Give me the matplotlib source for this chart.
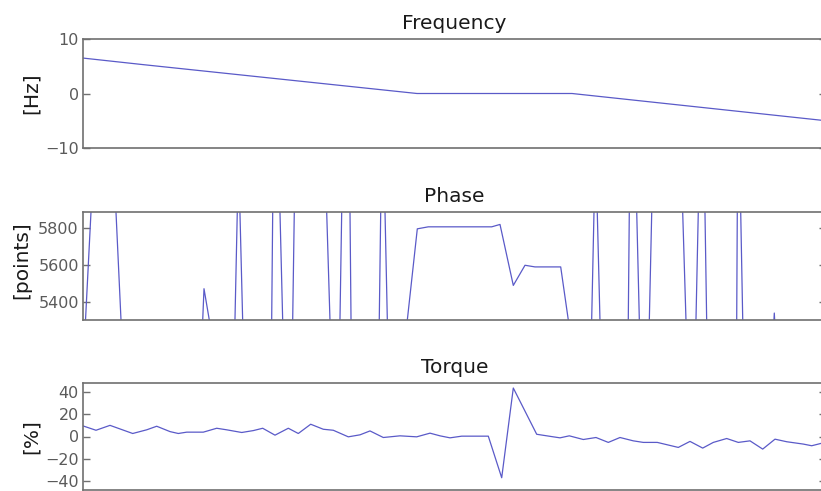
import matplotlib.pyplot as plt

plt.rcParams['font.family'] = ['DejaVu Sans']

# Sample positions share one time base (0..743)
freq_t = [0, 60, 334, 489, 738]
freq_hz = [6.5, 5.3, 0.0, 0.0, -4.9]

# Phase wraps past the axis limits, so many samples sit outside the view
phase_t = [0, 11.8, 29.5, 41.4, 116.7, 121, 138.7, 150.4, 155.5, 161.5,
           188, 190.4, 195.1, 201.5, 208.6, 212.4, 241.4, 249.2, 255.8, 259.9,
           266.3, 268.7, 295.3, 298.7, 300.4, 305.9, 316.3, 334.3, 345.3, 408.7,
           417, 430.3, 442, 452, 477.7, 495.8, 507.1, 512.5, 518.8, 544.6,
           547, 551.9, 558.1, 564.7, 570.4, 597.4, 605.2, 611.4, 616.9, 620.8,
           624.8, 653.3, 654.7, 656.3, 661.1, 689, 691.3, 693.5, 738]
phase_pts = [5030, 6300, 6300, 4900, 4900, 5471, 4900, 4900, 6200, 4900,
             4900, 6300, 6300, 4900, 4900, 6300, 6300, 4900, 4900, 6300,
             6300, 4900, 4900, 6300, 6300, 4900, 4900, 5798, 5809, 5809,
             5822, 5489, 5599, 5590, 5590, 4900, 4900, 6275, 4900, 4900,
             6300, 6300, 4900, 4900, 6300, 6300, 4900, 4900, 6300, 6300,
             4900, 4900, 6300, 6300, 4900, 5100, 5338, 5100, 4900]

torque_t = [0, 13, 27, 49.7, 63.7, 73.7, 87, 95.3, 103.7, 120.3,
            133.7, 143.7, 158.7, 170.3, 179.7, 192, 205.3, 215.3, 227.7, 240.3,
            250.3, 265.3, 277, 287, 300.3, 317, 333.7, 347, 357, 367,
            378.7, 405.3, 418.7, 430.3, 453.7, 470.3, 477, 486.3, 500.3, 513,
            525.3, 537, 550.3, 560.3, 574.3, 595.3, 607, 619.7, 630.3, 643.7,
            655.3, 667, 679.7, 692, 703.7, 720.3, 728.7, 738]
torque_pct = [9.5, 5.6, 10, 2.7, 6, 9.2, 4.4, 2.7, 3.9, 3.9,
              7.4, 6, 3.6, 5.3, 7.4, 1.2, 7.4, 2.7, 11, 6.5,
              5.6, -0.3, 1.5, 5, -0.9, 0.6, -0.3, 3, 0.6, -1.2,
              0.3, 0.3, -37, 43.5, 2, -0.3, -1.2, 0.6, -2.7, -0.9,
              -5.3, -0.9, -3.9, -5.3, -5.3, -9.8, -4.4, -10.4, -5.3, -1.8,
              -5.3, -3.9, -11.3, -2.4, -4.7, -6.8, -8.3, -6.2]

line_color = '#5a5ac8'
spine_color = '#707070'
tick_color = '#5a5a5a'

fig = plt.figure(figsize=(8.21, 4.91), dpi=100)

left, width = 83 / 821, 743 / 821
ax_f = fig.add_axes([left, 343 / 491, width, 109 / 491])
ax_p = fig.add_axes([left, 171 / 491, width, 108 / 491])
ax_t = fig.add_axes([left, 1 / 491, width, 107 / 491])

panels = [
    (ax_f, freq_t, freq_hz, 'Frequency', '[Hz]', (-10, 10), [-10, 0, 10], -0.057, 0.5),
    (ax_p, phase_t, phase_pts, 'Phase', '[points]', (5300, 5890), [5400, 5600, 5800], -0.069, 0.55),
    (ax_t, torque_t, torque_pct, 'Torque', '[%]', (-48, 48), [-40, -20, 0, 20, 40], -0.057, 0.5),
]

for ax, t, y, title, ylabel, ylim, yticks, lx, ly in panels:
    ax.plot(t, y, color=line_color, linewidth=0.9)
    ax.set_xlim(0, 743)
    ax.set_ylim(*ylim)
    ax.set_yticks(yticks)
    ax.set_xticks([])
    ax.set_title(title, fontsize=14.5, color='#1a1a1a', pad=7)
    ax.set_ylabel(ylabel, fontsize=14.5, color='#1a1a1a')
    ax.yaxis.set_label_coords(lx, ly)
    ax.tick_params(axis='y', direction='in', length=5, width=1, color=spine_color,
                   labelcolor=tick_color, labelsize=11.5, right=True, pad=3)
    for s in ax.spines.values():
        s.set_color(spine_color)
        s.set_linewidth(1.2)

fig.savefig('out.png', dpi=100)
